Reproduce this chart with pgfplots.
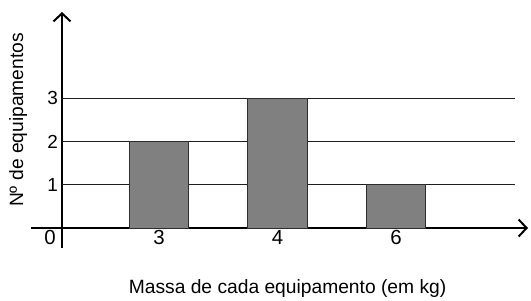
\documentclass[border=0pt]{standalone}
\usepackage{fontspec}
\setmainfont{Liberation Sans}
\usepackage{pgfplots}
\pgfplotsset{compat=1.18}
\usetikzlibrary{arrows.meta}
\definecolor{barfill}{RGB}{128,128,128}
\definecolor{baredge}{RGB}{45,45,45}
\definecolor{gridc}{RGB}{30,30,30}
\begin{document}
\begin{tikzpicture}[x=1bp,y=1bp]
\begin{axis}[
  name=ax,
  at={(0,0)}, anchor=south west,
  scale only axis, width=466bp, height=216bp,
  xmin=0.1814, xmax=4.114, ymin=0, ymax=5,
  axis lines=left,
  axis line style={line width=1.2pt, -{Straight Barb[length=8bp,width=17bp,line width=2bp]}},
  xtick={1,2,3}, xticklabels={3,4,6},
  ytick={1,2,3},
  extra x ticks={0.1814}, extra x tick labels={0},
  extra x tick style={xticklabel style={xshift=-12bp}},
  major tick length=0pt,
  xticklabel style={font=\fontsize{20.5}{23}\selectfont, inner sep=2.5bp},
  yticklabel style={font=\fontsize{19}{22}\selectfont, inner sep=4bp},
  /pgf/number format/assume math mode=true,
  label style={font=\fontsize{19.3}{22}\selectfont},
  xlabel={Massa de cada equipamento (em kg)},
  ylabel={Nº de equipamentos},
  xlabel style={at={(axis description cs:0.484,-0.278)}, anchor=center},
  ylabel style={at={(axis description cs:-0.094,0.5)}, anchor=center},
  ybar, bar width=0.506,
  clip=false,
]
\draw[gridc, line width=1pt] (axis cs:0.1814,1) -- (axis cs:4.004,1);
\draw[gridc, line width=1pt] (axis cs:0.1814,2) -- (axis cs:4.004,2);
\draw[gridc, line width=1pt] (axis cs:0.1814,3) -- (axis cs:4.004,3);
\draw[line width=1.2pt] (axis cs:0.1814,0) -- ++(-31bp,0bp);
\draw[line width=1.2pt] (axis cs:0.1814,0) -- ++(0bp,-20bp);
\addplot[fill=barfill, draw=baredge, line width=1pt] coordinates {(1,2) (2,3) (3,1)};
\end{axis}
\pgfresetboundingbox
\path[use as bounding box] (-62,-72) rectangle (469,228);
\end{tikzpicture}
\end{document}
